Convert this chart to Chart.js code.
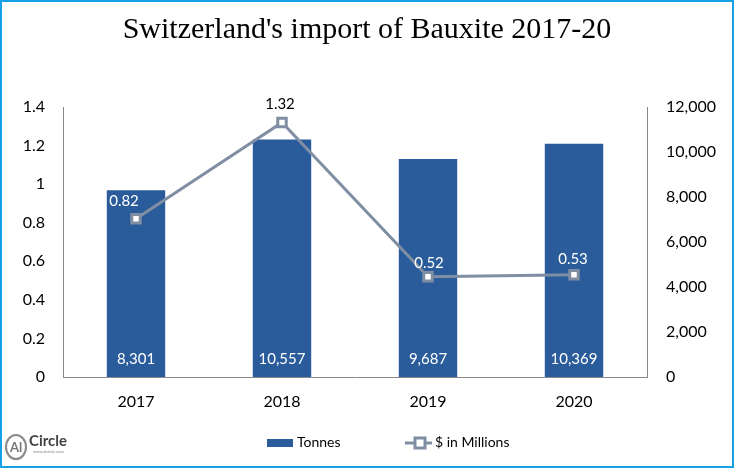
<!DOCTYPE html>
<html lang="en">
<head>
  <meta charset="UTF-8" />
  <title>Switzerland's import of Bauxite 2017-20</title>
  <script src="https://cdn.jsdelivr.net/npm/chart.js"></script>
  <style>
    html, body { margin: 0; padding: 0; background: #fff; }
    #wrap { width: 734px; height: 468px; position: relative; }
  </style>
</head>
<body>
  <div id="wrap"><canvas id="bauxiteChart" width="734" height="468"></canvas></div>

  <script>
    const years = ['2017', '2018', '2019', '2020'];
    const tonnes = [8301, 10557, 9687, 10369];
    const usdMillions = [0.82, 1.32, 0.52, 0.53];
    const usdLabelColors = ['#ffffff', '#000000', '#ffffff', '#ffffff'];

    const barColor = '#2a5b9b';
    const lineColor = '#7f8ea3';
    const uiFont = 'Lato, "Open Sans", sans-serif';

    // frame, data labels, legend and logo
    const extras = {
      id: 'extras',
      afterDatasetsDraw(chart) {
        const ctx = chart.ctx;
        ctx.save();
        ctx.textAlign = 'center';
        ctx.textBaseline = 'middle';
        ctx.font = '15px ' + uiFont;
        chart.getDatasetMeta(0).data.forEach((bar, i) => {
          ctx.fillStyle = '#ffffff';
          ctx.fillText(tonnes[i].toLocaleString('en-US'), bar.x, 359);
        });
        const offs = [[-12, -18], [-2, -18], [1, -14], [-1, -16]];
        chart.getDatasetMeta(1).data.forEach((pt, i) => {
          ctx.fillStyle = usdLabelColors[i];
          ctx.fillText(usdMillions[i].toFixed(2), pt.x + offs[i][0], pt.y + offs[i][1]);
        });
        ctx.restore();
      },
      afterDraw(chart) {
        const ctx = chart.ctx;
        ctx.save();
        // border
        ctx.strokeStyle = '#14a1e6';
        ctx.lineWidth = 2;
        ctx.strokeRect(1, 1, 732, 466);

        // legend
        ctx.fillStyle = barColor;
        ctx.fillRect(267, 439, 26, 8);
        ctx.font = '14px ' + uiFont;
        ctx.textBaseline = 'middle';
        ctx.fillStyle = '#000';
        ctx.fillText('Tonnes', 297, 442);
        ctx.strokeStyle = lineColor;
        ctx.lineWidth = 3;
        ctx.beginPath();
        ctx.moveTo(405, 443);
        ctx.lineTo(432, 443);
        ctx.stroke();
        ctx.fillStyle = '#fff';
        ctx.fillRect(415, 438, 10, 10);
        ctx.strokeRect(415, 438, 10, 10);
        ctx.fillStyle = '#000';
        ctx.fillText('$ in Millions', 435, 442);

        // logo
        ctx.strokeStyle = '#8a8a8a';
        ctx.lineWidth = 2;
        ctx.beginPath();
        ctx.ellipse(16, 447, 10, 12, 0, 0, Math.PI * 2);
        ctx.stroke();
        ctx.fillStyle = '#777';
        ctx.textAlign = 'center';
        ctx.font = 'bold 13px ' + uiFont;
        ctx.fillText('Al', 16, 448);
        ctx.textAlign = 'left';
        ctx.fillStyle = '#444';
        ctx.font = 'bold 15px ' + uiFont;
        ctx.fillText('Circle', 29, 441);
        ctx.fillStyle = '#888';
        ctx.font = '4px ' + uiFont;
        ctx.fillText('www.alcircle.com', 33, 452);
        ctx.restore();
      }
    };

    new Chart(document.getElementById('bauxiteChart'), {
      data: {
        labels: years,
        datasets: [{
          type: 'bar',
          label: 'Tonnes',
          data: tonnes,
          yAxisID: 'yRight',
          backgroundColor: barColor,
          barPercentage: 0.4,
          categoryPercentage: 1,
          order: 2
        }, {
          type: 'line',
          label: '$ in Millions',
          data: usdMillions,
          yAxisID: 'yLeft',
          borderColor: lineColor,
          borderWidth: 3,
          pointStyle: 'rect',
          pointRadius: 6,
          pointBorderWidth: 3,
          pointBackgroundColor: '#ffffff',
          pointBorderColor: lineColor,
          tension: 0,
          order: 1
        }]
      },
      options: {
        responsive: false,
        animation: false,
        layout: { padding: { top: 0, bottom: 51, left: 0, right: 0 } },
        plugins: {
          legend: { display: false },
          tooltip: { enabled: false },
          title: {
            display: true,
            text: "Switzerland's import of Bauxite 2017-20",
            color: '#000',
            font: { family: '"Liberation Serif", serif', size: 30, weight: 'normal', lineHeight: 1.2 },
            padding: { top: 12, bottom: 59 }
          }
        },
        scales: {
          x: {
            grid: { display: false, drawTicks: false },
            border: { color: '#898989', width: 1 },
            ticks: { color: '#000', font: { family: uiFont, size: 16 }, padding: 15 },
            afterFit(s) { s.height = 40; }
          },
          yLeft: {
            position: 'left',
            min: 0, max: 1.4,
            grid: { display: false, drawTicks: false },
            border: { color: '#898989', width: 1 },
            ticks: { stepSize: 0.2, color: '#000', padding: 18, font: { family: uiFont, size: 16 },
              callback: v => String(Math.round(v * 10) / 10) },
            afterFit(s) { s.width = 63; }
          },
          yRight: {
            position: 'right',
            min: 0, max: 12000,
            grid: { display: false, drawOnChartArea: false, drawTicks: true, tickLength: 7, color: '#898989' },
            border: { color: '#898989', width: 1 },
            ticks: { stepSize: 2000, color: '#000', padding: 12, font: { family: uiFont, size: 16 },
              callback: v => v.toLocaleString('en-US') },
            afterFit(s) { s.width = 87; }
          }
        }
      },
      plugins: [extras]
    });
  </script>
</body>
</html>
